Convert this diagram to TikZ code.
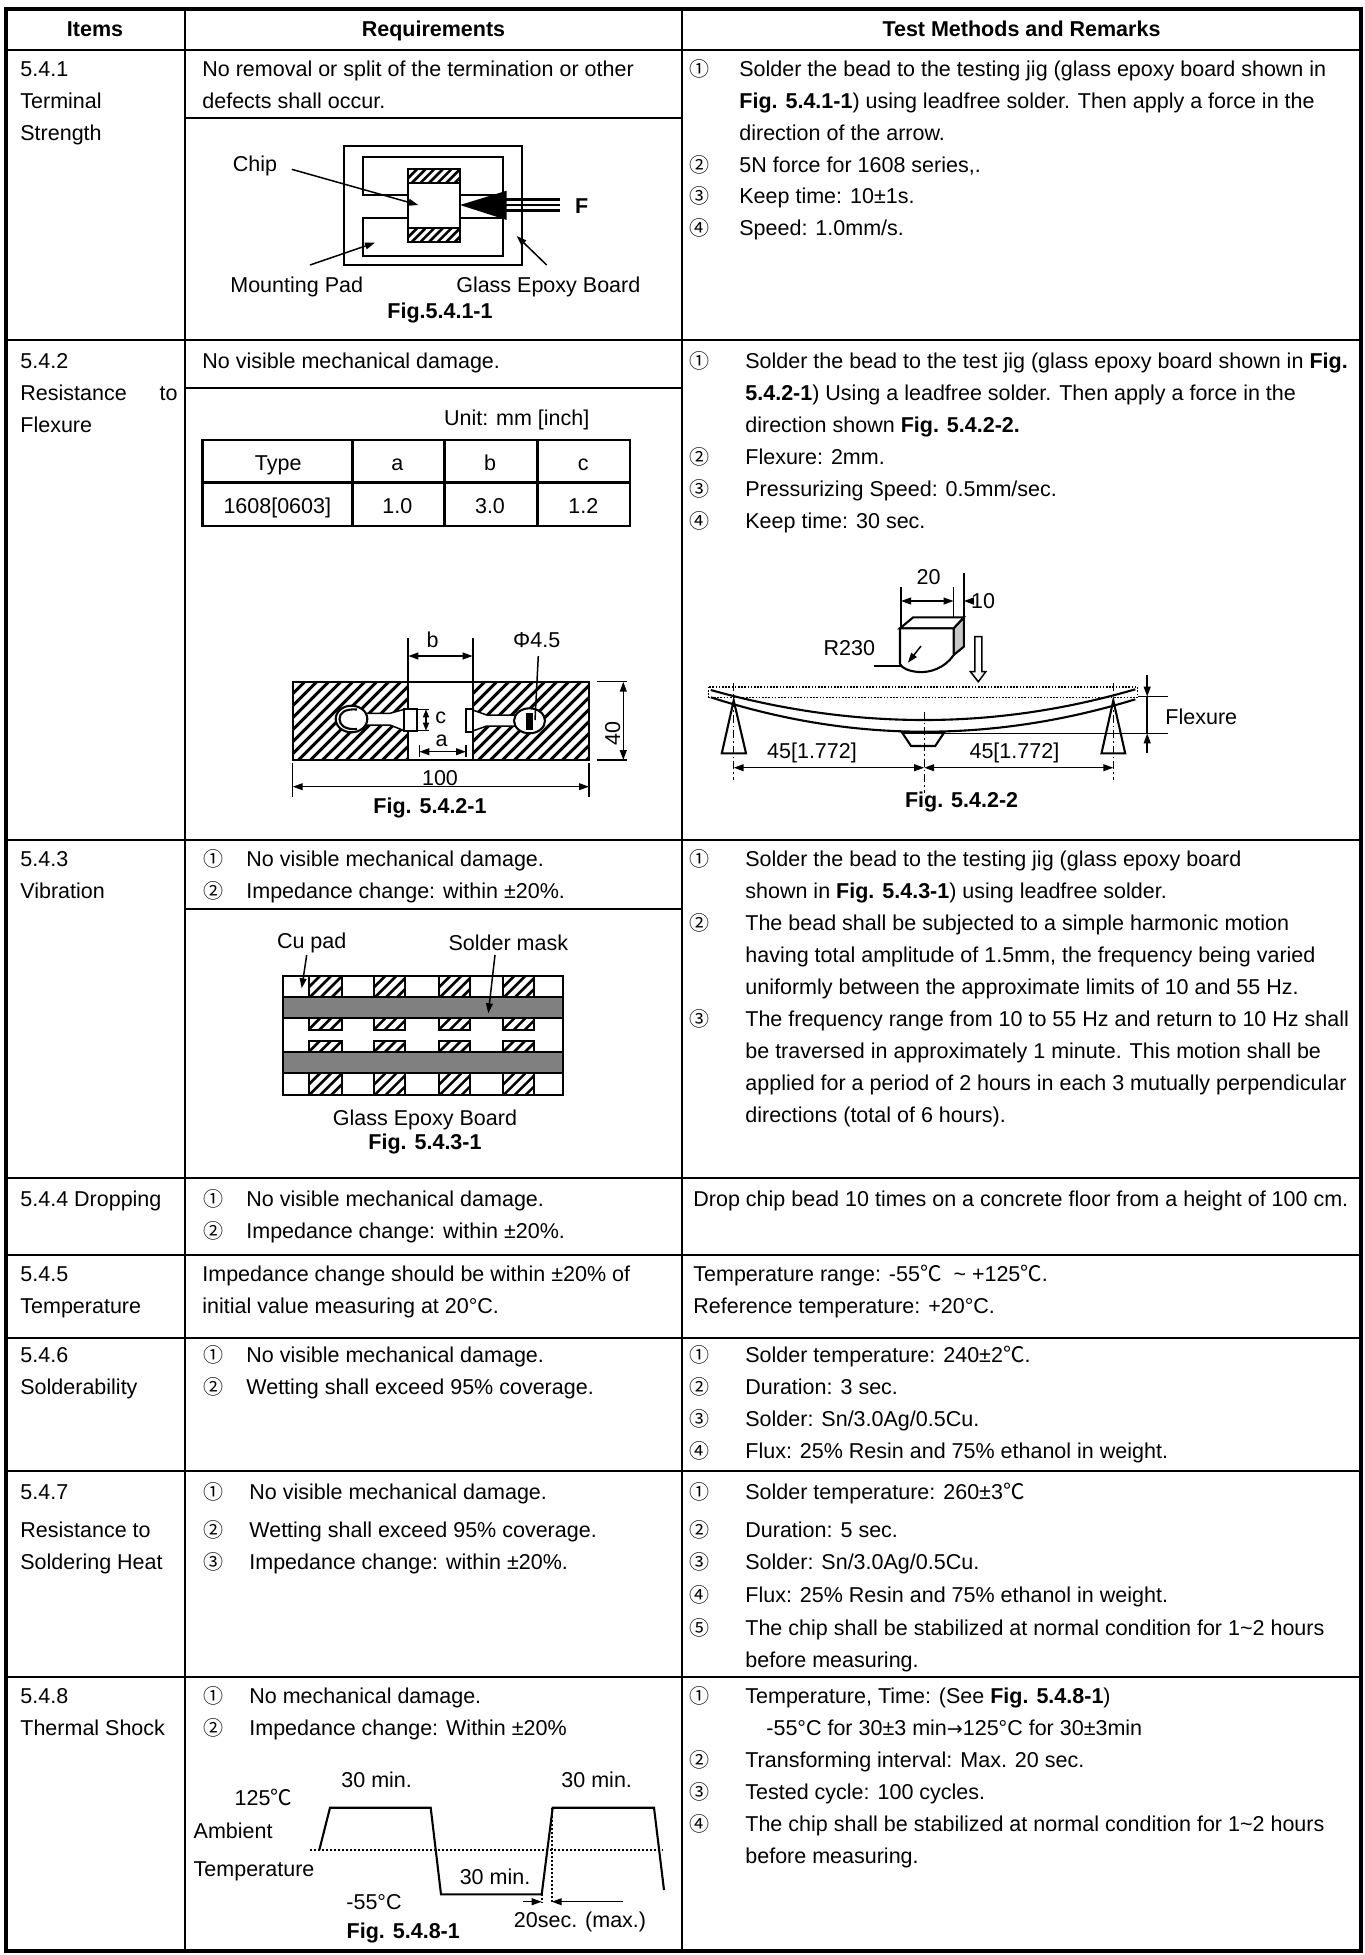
\documentclass[tikz,border=0pt]{standalone}
\usepackage{fontspec}
\setmainfont{Liberation Sans}
\newfontfamily\cjk{Noto Sans CJK SC}
\newfontfamily\djv{DejaVu Sans}
\usetikzlibrary{arrows.meta}
\newcounter{nn}
\newcommand\Tx[3]{\stepcounter{nn}\node[txt] (n\arabic{nn}) at (#1,#2) {#3};}
\newcommand\Cd[3]{\stepcounter{nn}\node[txt,font=\cjk\fontsize{10}{12}\selectfont] (n\arabic{nn}) at (#1,#2) {#3};}
\newcommand\Lb[4][]{\stepcounter{nn}\node[lbl,#1] (n\arabic{nn}) at (#2,#3) {#4};}
\newcommand\dc{{\cjk ℃}}
\newcommand\rarr{{\djv\fontsize{9.5}{12}\selectfont →}}
\newcommand\hatchbox[6]{%
  \begin{scope}
    \clip (#1,#2) rectangle (#3,#4);
    \pgfmathsetmacro\hH{#4-#2}%
    \pgfmathsetmacro\xA{#1-\hH}%
    \pgfmathsetmacro\xB{#1-\hH+#5}%
    \foreach \xx in {\xA,\xB,...,#3}{\draw[line width=#6] (\xx,#4) -- ++(\hH,-\hH);}
  \end{scope}}
\begin{document}
\begin{tikzpicture}[x=0.5pt,y=-0.5pt,
  txt/.style={anchor=base west,inner sep=0pt,font=\fontsize{10.75}{16}\selectfont},
  hd/.style={anchor=base,inner sep=0pt,font=\fontsize{10.75}{16}\selectfont\bfseries},
  lbl/.style={anchor=center,inner sep=0pt,font=\fontsize{10.75}{13}\selectfont},
  blbl/.style={font=\fontsize{10.75}{13}\selectfont\bfseries},
  cell/.style={anchor=base,inner sep=0pt,font=\fontsize{10.75}{13}\selectfont},
  gridline/.style={line width=1.3pt},
  subline/.style={line width=0.9pt},
  fig/.style={line width=1.05pt},
  thinfig/.style={line width=0.75pt},
  arr/.style={thinfig,-{Triangle[length=5pt,width=3.4pt]}},
  dbl/.style={thinfig,{Triangle[length=5pt,width=3.4pt]}-{Triangle[length=5pt,width=3.4pt]}},
  dotline/.style={line width=0.8pt,dash pattern=on 0.8pt off 0.8pt},
  cline/.style={line width=0.5pt,dash pattern=on 4pt off 1.5pt on 0.8pt off 1.5pt},
  amb/.style={line width=1pt,dash pattern=on 1pt off 1pt}]
\useasboundingbox (0,0) rectangle (1365,1955);
% ---------- table grid ----------
\draw[line width=1.6pt] (6,9) rectangle (1361,1951);
\draw[gridline] (185,9) -- (185,1951);
\draw[gridline] (682,9) -- (682,1951);
\foreach \yy in {50,340,840,1178,1255,1338,1471,1677}{\draw[gridline] (6,\yy) -- (1361,\yy);}
\draw[subline] (185,118) -- (682,118);
\draw[subline] (185,388) -- (682,388);
\draw[subline] (185,909) -- (682,909);
% ---------- header ----------
\node[hd] (h1) at (95,36) {Items};
\node[hd] (h2) at (433.5,36) {Requirements};
\node[hd] (h3) at (1021.5,36) {Test Methods and Remarks};
% ---------- items ----------
\Tx{20}{76}{5.4.1} \Tx{20}{108}{Terminal} \Tx{20}{140}{Strength}
\Tx{20}{368}{5.4.2} \Tx{20}{400}{Resistance}
\node[txt,anchor=base east] (to1) at (178,400) {to};
\Tx{20}{432}{Flexure}
\Tx{20}{866}{5.4.3} \Tx{20}{898}{Vibration}
\Tx{20}{1206}{5.4.4 Dropping}
\Tx{20}{1281}{5.4.5} \Tx{20}{1313}{Temperature}
\Tx{20}{1362}{5.4.6} \Tx{20}{1394}{Solderability}
\Tx{20}{1499}{5.4.7} \Tx{20}{1537}{Resistance to} \Tx{20}{1569}{Soldering Heat}
\Tx{20}{1703}{5.4.8} \Tx{20}{1735}{Thermal Shock}
% ---------- requirements ----------
\Tx{202}{76}{No removal or split of the termination or other}
\Tx{202}{108}{defects shall occur.}
\Tx{202}{368}{No visible mechanical damage.}
\Cd{203}{866}{①} \Tx{246}{866}{No visible mechanical damage.}
\Cd{203}{898}{②} \Tx{246}{898}{Impedance change: within ±20\%.}
\Cd{203}{1206}{①} \Tx{246}{1206}{No visible mechanical damage.}
\Cd{203}{1238}{②} \Tx{246}{1238}{Impedance change: within ±20\%.}
\Tx{202}{1281}{Impedance change should be within ±20\% of}
\Tx{202}{1313}{initial value measuring at 20°C.}
\Cd{203}{1362}{①} \Tx{246}{1362}{No visible mechanical damage.}
\Cd{203}{1394}{②} \Tx{246}{1394}{Wetting shall exceed 95\% coverage.}
\Cd{203}{1499}{①} \Tx{249}{1499}{No visible mechanical damage.}
\Cd{203}{1537}{②} \Tx{249}{1537}{Wetting shall exceed 95\% coverage.}
\Cd{203}{1569}{③} \Tx{249}{1569}{Impedance change: within ±20\%.}
\Cd{203}{1703}{①} \Tx{249}{1703}{No mechanical damage.}
\Cd{203}{1735}{②} \Tx{249}{1735}{Impedance change: Within ±20\%}
% ---------- test methods ----------
\Cd{689}{76}{①} \Tx{739}{76}{Solder the bead to the testing jig (glass epoxy board shown in}
\Tx{739}{108}{\textbf{Fig. 5.4.1-1}) using leadfree solder. Then apply a force in the}
\Tx{739}{140}{direction of the arrow.}
\Cd{689}{172}{②} \Tx{739}{172}{5N force for 1608 series,.}
\Cd{689}{203}{③} \Tx{739}{203}{Keep time: 10±1s.}
\Cd{689}{235}{④} \Tx{739}{235}{Speed: 1.0mm/s.}
%
\Cd{689}{368}{①} \Tx{745}{368}{Solder the bead to the test jig (glass epoxy board shown in \textbf{Fig.}}
\Tx{745}{400}{\textbf{5.4.2-1}) Using a leadfree solder. Then apply a force in the}
\Tx{745}{432}{direction shown \textbf{Fig. 5.4.2-2.}}
\Cd{689}{464}{②} \Tx{745}{464}{Flexure: 2mm.}
\Cd{689}{496}{③} \Tx{745}{496}{Pressurizing Speed: 0.5mm/sec.}
\Cd{689}{528}{④} \Tx{745}{528}{Keep time: 30 sec.}
%
\Cd{689}{866}{①} \Tx{745}{866}{Solder the bead to the testing jig (glass epoxy board}
\Tx{745}{898}{shown in \textbf{Fig. 5.4.3-1}) using leadfree solder.}
\Cd{689}{930}{②} \Tx{745}{930}{The bead shall be subjected to a simple harmonic motion}
\Tx{745}{962}{having total amplitude of 1.5mm, the frequency being varied}
\Tx{745}{994}{uniformly between the approximate limits of 10 and 55 Hz.}
\Cd{689}{1026}{③} \Tx{745}{1026}{The frequency range from 10 to 55 Hz and return to 10 Hz shall}
\Tx{745}{1058}{be traversed in approximately 1 minute. This motion shall be}
\Tx{745}{1090}{applied for a period of 2 hours in each 3 mutually perpendicular}
\Tx{745}{1122}{directions (total of 6 hours).}
%
\Tx{693}{1206}{Drop chip bead 10 times on a concrete floor from a height of 100 cm.}
\Tx{693}{1281}{Temperature range: -55\dc\ \ \textasciitilde\ +125\dc.}
\Tx{693}{1313}{Reference temperature: +20°C.}
%
\Cd{689}{1362}{①} \Tx{745}{1362}{Solder temperature: 240±2\dc.}
\Cd{689}{1394}{②} \Tx{745}{1394}{Duration: 3 sec.}
\Cd{689}{1426}{③} \Tx{745}{1426}{Solder: Sn/3.0Ag/0.5Cu.}
\Cd{689}{1458}{④} \Tx{745}{1458}{Flux: 25\% Resin and 75\% ethanol in weight.}
%
\Cd{689}{1499}{①} \Tx{745}{1499}{Solder temperature: 260±3\dc}
\Cd{689}{1537}{②} \Tx{745}{1537}{Duration: 5 sec.}
\Cd{689}{1569}{③} \Tx{745}{1569}{Solder: Sn/3.0Ag/0.5Cu.}
\Cd{689}{1602}{④} \Tx{745}{1602}{Flux: 25\% Resin and 75\% ethanol in weight.}
\Cd{689}{1635}{⑤} \Tx{745}{1635}{The chip shall be stabilized at normal condition for 1\textasciitilde 2 hours}
\Tx{745}{1667}{before measuring.}
%
\Cd{689}{1703}{①} \Tx{745}{1703}{Temperature, Time: (See \textbf{Fig. 5.4.8-1})}
\Tx{766}{1735}{-55°C for 30±3 min\rarr125°C for 30±3min}
\Cd{689}{1767}{②} \Tx{745}{1767}{Transforming interval: Max. 20 sec.}
\Cd{689}{1799}{③} \Tx{745}{1799}{Tested cycle: 100 cycles.}
\Cd{689}{1831}{④} \Tx{745}{1831}{The chip shall be stabilized at normal condition for 1\textasciitilde 2 hours}
\Tx{745}{1863}{before measuring.}
% ========== Fig 5.4.1-1 ==========
\draw[fig] (344.3,145.7) rectangle (521.7,265);
\draw[fig] (362.7,156.7) rectangle (502.7,195);
\draw[fig] (362.7,218.3) rectangle (502.7,256);
\draw[fig,fill=white] (408.3,169.3) rectangle (460,241.7);
\hatchbox{408.3}{169.3}{460}{183.3}{8.6}{1.3pt}
\hatchbox{408.3}{228.3}{460}{241.7}{8.6}{1.3pt}
\draw[fig] (408.3,169.3) rectangle (460,183.3);
\draw[fig] (408.3,228.3) rectangle (460,241.7);
\fill (460,205) -- (506.7,190.7) -- (506.7,220) -- cycle;
\draw[line width=1.2pt] (506,199.5) -- (560,199.5);
\draw[line width=1.2pt] (506,205) -- (560,205);
\draw[line width=1.2pt] (506,210.5) -- (560,210.5);
\Lb[blbl]{581.7}{206}{F}
\Lb{255}{166}{Chip}
\draw[arr] (291.7,169.3) -- (418.3,205);
\Lb{296.7}{286.7}{Mounting Pad}
\draw[arr] (310,265) -- (375,242.7);
\Lb{548.3}{286.7}{Glass Epoxy Board}
\draw[arr] (546.7,265) -- (516.7,236);
\Lb[blbl]{440}{313.3}{Fig.5.4.1-1}
% ========== Fig 5.4.2-1 ==========
\Lb{516.7}{420}{Unit: mm [inch]}
\draw[line width=1.3pt] (202.7,440) rectangle (630,526);
\draw[line width=1.3pt] (202.7,482.7) -- (630,482.7);
\foreach \xx in {352.3,444.3,537.3}{\draw[line width=1.3pt] (\xx,440) -- (\xx,526);}
\node[cell] (c1) at (278.3,470) {Type};
\node[cell] (c2) at (397.3,470) {a};
\node[cell] (c3) at (490,470) {b};
\node[cell] (c4) at (583.3,470) {c};
\node[cell] (c5) at (277.3,513) {1608[0603]};
\node[cell] (c6) at (397.3,513) {1.0};
\node[cell] (c7) at (490,513) {3.0};
\node[cell] (c8) at (583.3,513) {1.2};
\hatchbox{292.7}{681.7}{408.3}{760}{12}{1.5pt}
\hatchbox{472.7}{681.7}{589}{760}{12}{1.5pt}
\draw[fig] (292.7,681.7) rectangle (589,760);
\draw[fig] (408.3,638.3) -- (408.3,760);
\draw[fig] (472.7,638.3) -- (472.7,760);
% left hole and trace
\fill[white] (362,713.3) -- (390,713.3) -- (404.3,708.3) -- (404.3,730.7) -- (390,725) -- (362,725) -- cycle;
\draw[thinfig] (364,713.3) -- (390,713.3) -- (404.3,709.3);
\draw[thinfig] (364,725) -- (390,725) -- (404.3,730.7);
\draw[fig,fill=white] (351.5,719) ellipse [x radius=15.8, y radius=13.3];
\draw[fig] (357,709.5) .. controls (345,708.5) and (339.5,713) .. (339.5,719) .. controls (339.5,725) and (345,730) .. (357,729);
\draw[fig,fill=white] (404.3,709.3) rectangle (416.7,730.7);
% right hole and trace
\fill[white] (472.7,710) -- (486.7,715) -- (516,715) -- (516,726) -- (486.7,726) -- (472.7,731) -- cycle;
\draw[thinfig] (472.7,710) -- (486.7,715) -- (515,715);
\draw[thinfig] (472.7,731) -- (486.7,726) -- (515,726);
\draw[fig,fill=white] (466,709.3) rectangle (472.7,731.7);
\draw[fig,fill=white] (529.5,720.8) ellipse [x radius=15.5, y radius=12.5];
\fill (526,712.5) rectangle (533,729.5);
% dims
\draw[thinfig] (416.7,709.3) -- (429.3,709.3);
\draw[thinfig] (416.7,730.7) -- (429.3,730.7);
\draw[thinfig,-{Triangle[length=4pt,width=3pt]}] (426,720) -- (426,709.3);
\draw[thinfig,-{Triangle[length=4pt,width=3pt]}] (426,720) -- (426,730.7);
\Lb{440.7}{717.5}{c}
\Lb{441.7}{741}{a}
\draw[thinfig] (419.3,745) -- (419.3,756.7);
\draw[thinfig] (466,745) -- (466,756.7);
\draw[dbl] (419.3,751.7) -- (466,751.7);
\draw[dbl] (408.3,656) -- (472.7,656);
\Lb{432.7}{640}{b}
\Lb{536.7}{640}{Φ4.5}
\draw[thinfig] (538.3,656) -- (535,720);
\draw[thinfig] (596.7,681.7) -- (626.7,681.7);
\draw[thinfig] (596.7,760) -- (626.7,760);
\draw[dbl] (623.3,681.7) -- (623.3,760);
\Lb[rotate=90]{612.7}{733.3}{40}
\draw[thinfig] (292.7,763.3) -- (292.7,796.7);
\draw[thinfig] (589,763.3) -- (589,796.7);
\draw[dbl] (292.7,786.7) -- (589,786.7);
\Lb{440}{778.3}{100}
\Lb[blbl]{430}{808.3}{Fig. 5.4.2-1}
% ========== Fig 5.4.2-2 ==========
\draw[dotline] (708.6,686.7) rectangle (1137.5,697.3);
\draw[fig] (710.8,690) .. controls (781.9,710) and (853.1,720) .. (924.2,720) .. controls (994.6,720) and (1064.9,709.8) .. (1135.3,689.3);
\draw[fig] (710.8,697.3) .. controls (781.9,720.2) and (853.1,731.7) .. (924.2,731.7) .. controls (994.6,731.7) and (1064.9,720.9) .. (1135.3,699.3);
\draw[fig,fill=white] (733.7,700.5) -- (746,753.3) -- (721.8,753.3) -- cycle;
\draw[fig,fill=white] (1113.3,700.5) -- (1125.2,753.3) -- (1101.5,753.3) -- cycle;
\draw[fig,fill=white] (902.2,732.7) -- (944,732.7) -- (935.2,746) -- (911,746) -- cycle;
\draw[cline] (733.7,683.3) -- (733.7,780);
\draw[cline] (1113.3,683.3) -- (1113.3,780);
\draw[cline] (924.2,711.7) -- (924.2,793.3);
\draw[dbl] (733.7,767.7) -- (924.2,767.7);
\draw[dbl] (924.2,767.7) -- (1113.3,767.7);
\Lb{812}{753.3}{45[1.772]}
\Lb{1014.4}{753.3}{45[1.772]}
\draw[thinfig] (1137.5,696.7) -- (1168.3,696.7);
\draw[thinfig] (944,733.3) -- (1168.3,733.3);
\draw[arr] (1147.2,675) -- (1147.2,696.7);
\draw[arr] (1147.2,753.3) -- (1147.2,733.3);
\draw[thinfig] (1147.2,696.7) -- (1147.2,733.3);
\Lb{1201.3}{716.7}{Flexure}
\draw[fig,fill=black!22] (953.6,628.3) -- (963.8,617.3) -- (963.8,646.7) -- (953.6,655) -- cycle;
\draw[fig,fill=white] (900,628.3) -- (913.2,617.3) -- (963.8,617.3) -- (953.6,628.3) -- cycle;
\draw[fig,fill=white] (900,628.3) -- (953.6,628.3) -- (953.6,655) .. controls (945,668) and (930,673) .. (918,672) .. controls (908,671) and (902,668) .. (900,664) -- cycle;
\Lb{849.4}{648.3}{R230}
\draw[thinfig] (873.6,666) -- (902,666);
\draw[arr] (921,646) -- (907.9,662.7);
\draw[thinfig] (901,586.7) -- (901,628.3);
\draw[thinfig] (953.6,586.7) -- (953.6,617.3);
\draw[thinfig] (963.8,573.3) -- (963.8,617.3);
\draw[dbl] (901,601) -- (953.6,601);
\draw[arr] (974,601) -- (963.8,601);
\Lb{928.6}{576.7}{20}
\Lb{983}{600.7}{10}
\draw[thinfig,fill=white] (974.8,636.7) -- (981.8,636.7) -- (981.8,671.7) -- (985.8,671.7) -- (978.3,681.7) -- (970.4,671.7) -- (974.8,671.7) -- cycle;
\Lb[blbl]{961.6}{801.7}{Fig. 5.4.2-2}
% ========== Fig 5.4.3-1 ==========
\draw[fig] (283.3,976) rectangle (562.7,1095);
\draw[fig,fill=black!50] (283.3,997.3) rectangle (562.7,1018.3);
\draw[fig,fill=black!50] (283.3,1052.3) rectangle (562.7,1073.3);
\foreach \xa/\xb in {309/341.7,374.3/405,439.3/470,503.3/534.3}{
  \foreach \ya/\yb in {976/997.3,1018.3/1030,1040.7/1052.3,1073.3/1095}{
    \hatchbox{\xa}{\ya}{\xb}{\yb}{11}{1.3pt}
    \draw[fig] (\xa,\ya) rectangle (\xb,\yb);
  }}
\draw[fig] (283.3,976) rectangle (562.7,1095);
\Lb{311.7}{943.3}{Cu pad}
\draw[arr] (306.7,955) -- (301.7,988.3);
\Lb{508.3}{943.3}{Solder mask}
\draw[arr] (495,955) -- (488.3,1013.3);
\Lb{425}{1120}{Glass Epoxy Board}
\Lb[blbl]{425}{1144}{Fig. 5.4.3-1}
% ========== Fig 5.4.8-1 ==========
\draw[amb] (310,1850) -- (663.3,1850);
\draw[amb] (551.7,1807.7) -- (551.7,1903.3);
\draw[amb] (541.7,1894.3) -- (541.7,1903.3);
\draw[fig] (319.3,1850) -- (330,1807.7) -- (430.7,1807.7) -- (441,1894.3) -- (541.7,1894.3) -- (552.7,1807.7) -- (654,1807.7) -- (664,1890);
\draw[arr] (523.3,1901.7) -- (541.7,1901.7);
\draw[arr] (623.3,1901.7) -- (551.7,1901.7);
\Lb{263.3}{1797}{125\dc}
\Lb{376.7}{1780}{30 min.}
\Lb{596.7}{1780}{30 min.}
\Lb[anchor=west]{193.3}{1831}{Ambient}
\Lb[anchor=west]{193.3}{1871.7}{Temperature}
\Lb{374}{1901.7}{-55°C}
\Lb{495}{1876.7}{30 min.}
\Lb{580}{1921.7}{20sec. (max.)}
\Lb[blbl]{403.3}{1933.3}{Fig. 5.4.8-1}
\end{tikzpicture}
\end{document}
